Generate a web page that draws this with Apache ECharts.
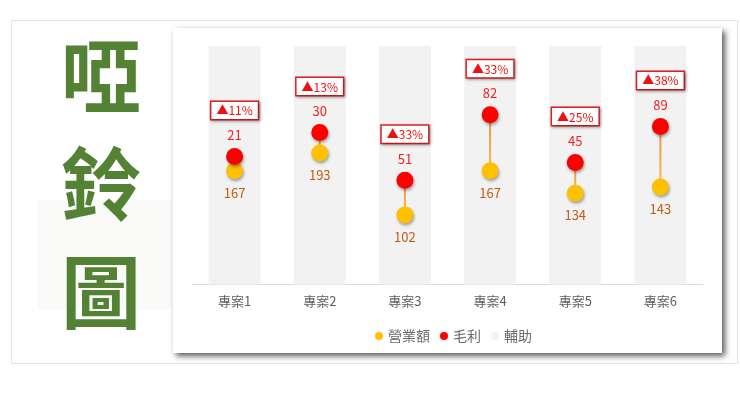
<!DOCTYPE html>
<html>
<head>
<meta charset="utf-8">
<script src="https://cdn.jsdelivr.net/npm/echarts@6/dist/echarts.min.js"></script>
<style>
  html, body { margin: 0; padding: 0; background: #fff; }
  #chart { width: 740px; height: 413px; }
</style>
</head>
<body>
<div id="chart"></div>
<script>
// 專案資料
const projects = ['專案1', '專案2', '專案3', '專案4', '專案5', '專案6']
const revenue = [167, 193, 102, 167, 134, 143]   // 營業額
const profit = [21, 30, 51, 82, 45, 89]          // 毛利
const margin = [11, 13, 33, 33, 25, 38]          // 毛利率 %
const helper = [350, 350, 350, 350, 350, 350]    // 輔助（灰底）

const FONT = '"Noto Sans CJK TC", "Noto Sans", sans-serif'

const chart = echarts.init(document.getElementById('chart'))

// 連接線：從營業額點畫到毛利點（堆疊後）
const linkData = revenue.map((v, i) => [i, v, v + profit[i]])

const option = {
  animation: false,
  textStyle: { fontFamily: FONT },
  graphic: [
    // 外框
    {
      type: 'rect', z: -10,
      shape: { x: 11.5, y: 20.5, width: 726, height: 343 },
      style: { fill: '#fff', stroke: '#e3e3e3', lineWidth: 1 }
    },
    // 淡綠色底
    {
      type: 'rect', z: -9,
      shape: { x: 37, y: 200, width: 135, height: 110 },
      style: { fill: 'rgba(84,130,53,0.03)' }
    },
    // 圖表面板
    {
      type: 'rect', z: -8,
      shape: { x: 173, y: 28, width: 549, height: 325 },
      style: {
        fill: '#fff',
        shadowBlur: 6,
        shadowOffsetX: 3,
        shadowOffsetY: 3,
        shadowColor: 'rgba(0,0,0,0.65)'
      }
    },
    ...['啞', '鈴', '圖'].map((ch, i) => ({
      type: 'text', z: -7,
      left: 61, top: 36 + i * 108,
      style: {
        text: ch,
        font: 'bold 80px "Noto Sans CJK TC"',
        fill: '#548235',
        shadowBlur: 3,
        shadowOffsetX: 2,
        shadowOffsetY: 2,
        shadowColor: 'rgba(0,0,0,0.3)'
      }
    }))
  ],
  legend: {
    left: 370,
    top: 324,
    itemWidth: 8,
    itemHeight: 8,
    itemGap: 10,
    textStyle: { color: '#6b6b6b', fontSize: 14, fontFamily: FONT },
    data: [
      { name: '營業額', icon: 'circle' },
      { name: '毛利', icon: 'circle' },
      { name: '輔助', icon: 'circle' }
    ]
  },
  grid: { left: 192, right: 37, top: 46, bottom: 128.5 },
  xAxis: {
    type: 'category',
    data: projects,
    axisTick: { show: false },
    axisLine: { lineStyle: { color: '#d9d9d9' } },
    axisLabel: { color: '#606060', fontSize: 13, margin: 10, fontFamily: FONT }
  },
  yAxis: {
    type: 'value',
    min: 0,
    max: 350,
    show: false,
    splitLine: { show: false }
  },
  series: [
    {
      name: '輔助',
      type: 'bar',
      data: helper,
      barWidth: 52,
      itemStyle: { color: '#f2f2f2' },
      silent: true,
      z: 1
    },
    {
      name: '連接',
      type: 'custom',
      data: linkData,
      z: 2,
      renderItem: (params, api) => {
        const p1 = api.coord([api.value(0), api.value(1)])
        const p2 = api.coord([api.value(0), api.value(2)])
        return {
          type: 'line',
          shape: { x1: p1[0], y1: p1[1], x2: p2[0], y2: p2[1] },
          style: {
            stroke: new echarts.graphic.LinearGradient(0, 0, 0, 1, [
              { offset: 0, color: '#f08a4b' },
              { offset: 1, color: '#f7c04a' }
            ]),
            lineWidth: 2
          }
        }
      }
    },
    {
      name: '營業額',
      type: 'line',
      stack: 'dumbbell',
      data: revenue,
      symbol: 'circle',
      symbolSize: 17,
      lineStyle: { opacity: 0 },
      itemStyle: {
        color: '#ffc000',
        shadowBlur: 3,
        shadowOffsetX: 1,
        shadowOffsetY: 2,
        shadowColor: 'rgba(0,0,0,0.35)'
      },
      label: {
        show: true,
        position: 'bottom',
        distance: 7,
        color: '#c55a11',
        fontSize: 13,
        fontFamily: FONT
      },
      z: 3
    },
    {
      name: '毛利',
      type: 'line',
      stack: 'dumbbell',
      data: profit,
      symbol: 'circle',
      symbolSize: 17,
      lineStyle: { opacity: 0 },
      itemStyle: {
        color: '#ff0000',
        shadowBlur: 3,
        shadowOffsetX: 1,
        shadowOffsetY: 2,
        shadowColor: 'rgba(0,0,0,0.35)'
      },
      label: {
        show: true,
        position: 'top',
        distance: 5,
        formatter: (p) => '{p|▲' + margin[p.dataIndex] + '%}\n{g| }\n{n|' + p.value + '}',
        rich: {
          p: {
            color: '#ee1111',
            fontSize: 12,
            fontFamily: FONT,
            backgroundColor: '#fff',
            borderColor: '#e02020',
            borderWidth: 1.5,
            padding: [3, 5, 2, 5],
            shadowBlur: 3,
            shadowOffsetX: 1,
            shadowOffsetY: 1,
            shadowColor: 'rgba(0,0,0,0.35)'
          },
          g: { fontSize: 1, lineHeight: 8 },
          n: { color: '#ee2222', fontSize: 13, lineHeight: 16, fontFamily: FONT }
        }
      },
      z: 3
    }
  ]
}

chart.setOption(option)
</script>
</body>
</html>
